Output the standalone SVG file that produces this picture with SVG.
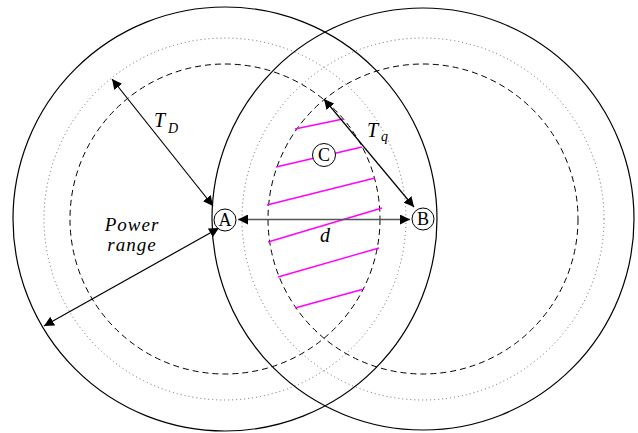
<svg xmlns="http://www.w3.org/2000/svg" width="638" height="433" viewBox="0 0 638 433">
<style>
.outer{fill:none;stroke:#000;stroke-width:1.2}
.dotted{fill:none;stroke:#666;stroke-width:1;stroke-dasharray:1 3}
.dashed{fill:none;stroke:#000;stroke-width:1;stroke-dasharray:6 4}
.hatch{stroke:#ff00ff;stroke-width:1.4}
.arrow{stroke:#000;stroke-width:1.2;fill:none;marker-start:url(#ah);marker-end:url(#ah)}
.arrowg{stroke:#555;stroke-width:1.6;fill:none;marker-start:url(#ah);marker-end:url(#ah)}
.node{fill:#fff;stroke:#000;stroke-width:1}
text{font-family:"Liberation Serif","DejaVu Serif",serif}
.nt{font-size:18px;text-anchor:middle}
.lab{font-style:italic;font-size:20px}
.sub{font-style:italic;font-size:14px}
.pr{font-style:italic;font-size:19px;letter-spacing:1px;text-anchor:middle}
</style>
<defs>
<marker id="ah" viewBox="0 0 10 10" refX="10" refY="5" markerWidth="10" markerHeight="10" markerUnits="userSpaceOnUse" orient="auto-start-reverse">
<path d="M0,0 L10,5 L0,10 z" fill="#000"/>
</marker>
</defs>
<rect width="638" height="433" fill="#fff"/>
<g id="ranges">
<circle class="outer" cx="225" cy="219" r="212"/>
<circle class="dotted" cx="225" cy="219" r="181"/>
<circle class="dashed" cx="225" cy="219" r="155"/>
<circle class="outer" cx="423" cy="219" r="211"/>
<circle class="dotted" cx="423" cy="219" r="181"/>
<circle class="dashed" cx="423" cy="219" r="155"/>
</g>
<g id="hatching">
<line class="hatch" x1="295" y1="129" x2="343" y2="119"/>
<line class="hatch" x1="276" y1="167" x2="362" y2="147"/>
<line class="hatch" x1="267" y1="205" x2="375" y2="178"/>
<line class="hatch" x1="268" y1="242" x2="382" y2="208"/>
<line class="hatch" x1="278" y1="277" x2="379" y2="248"/>
<line class="hatch" x1="295" y1="308" x2="364" y2="289"/>
</g>
<g id="connectors">
<line class="arrow" x1="112" y1="79" x2="213" y2="206"/>
<line class="arrow" x1="324" y1="99" x2="414" y2="207"/>
<line class="arrow" x1="44" y1="326" x2="219" y2="228"/>
<line class="arrowg" x1="238" y1="219.5" x2="410" y2="219.5"/>
</g>
<g id="nodeA" font-family="Liberation Serif, serif"><circle class="node" cx="225" cy="220" r="11"/><text class="nt" x="225" y="226">A</text></g>
<g id="nodeB" font-family="Liberation Serif, serif"><circle class="node" cx="423" cy="219" r="11"/><text class="nt" x="423" y="225">B</text></g>
<g id="nodeC" font-family="Liberation Serif, serif"><circle class="node" cx="324" cy="155" r="11.5"/><text class="nt" x="324" y="161">C</text></g>
<g id="labels" font-family="Liberation Serif, serif">
<text class="lab" x="154" y="127">T</text><text class="sub" x="168" y="133">D</text>
<text class="lab" x="367" y="137">T</text><text class="sub" x="381" y="141">q</text>
<text class="lab" x="320" y="242">d</text>
<text class="pr" x="132" y="231">Power</text>
<text class="pr" x="132" y="251">range</text>
</g>
</svg>
